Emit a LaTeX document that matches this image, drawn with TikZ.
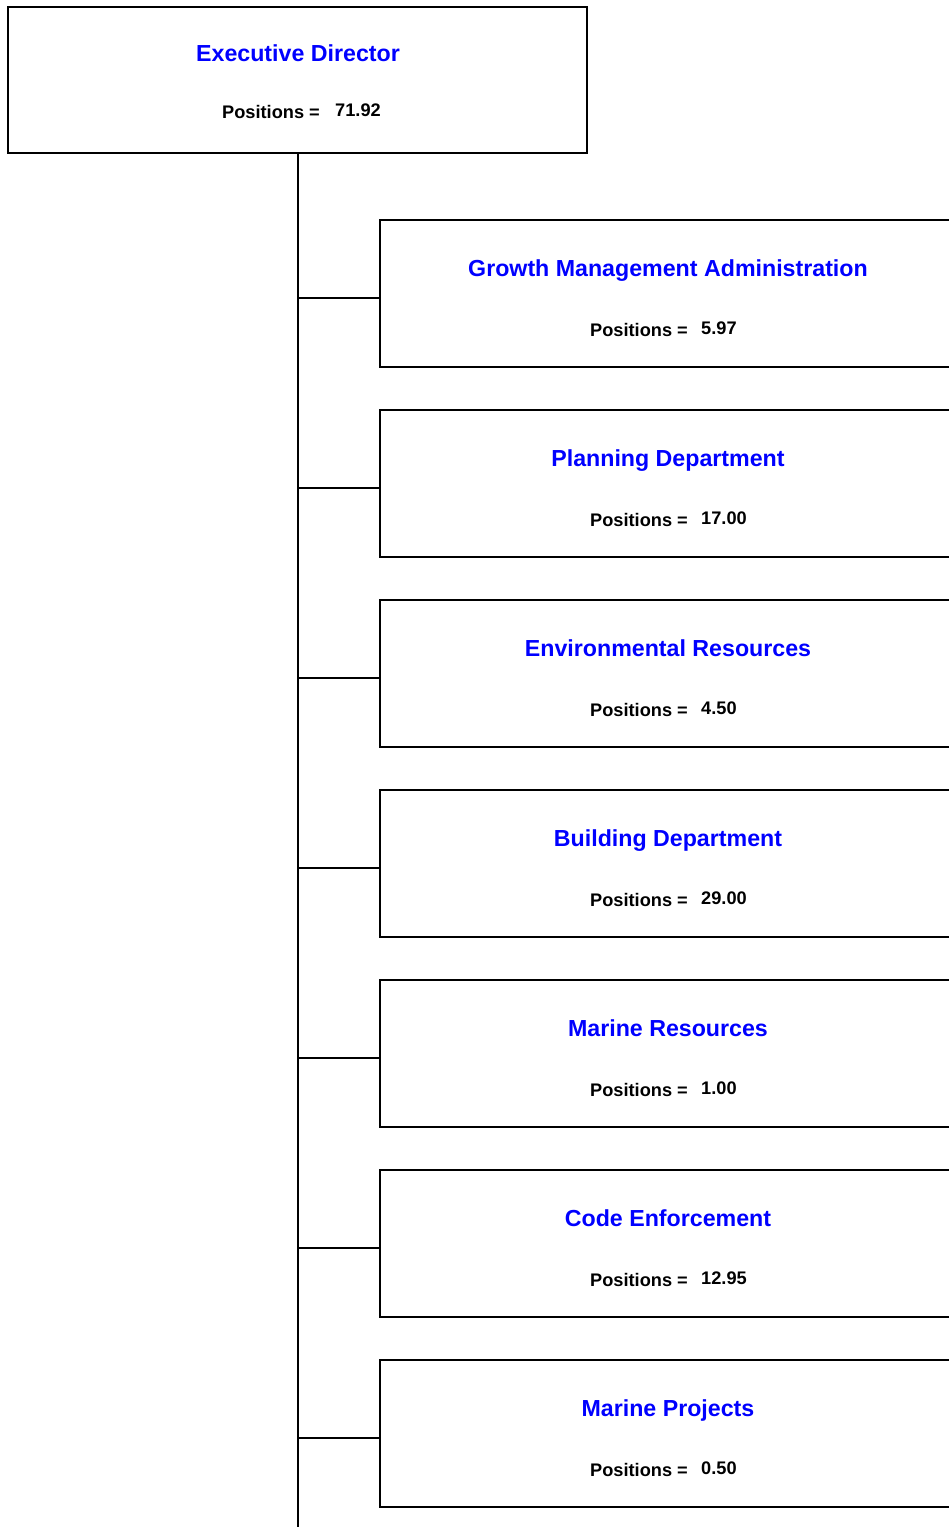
\documentclass[tikz,border=0pt]{standalone}
\usepackage{fontspec}
\setmainfont{Liberation Sans}
\definecolor{titleblue}{RGB}{0,0,255}
\begin{document}
\begin{tikzpicture}[x=1pt,y=-1pt,
  box/.style={draw=black,line width=2.6pt,rectangle,inner sep=0pt,minimum width=576pt,minimum height=147pt,fill=white},
  topbox/.style={draw=black,line width=2.6pt,rectangle,inner sep=0pt,minimum width=579pt,minimum height=146pt,fill=white},
  ttl/.style={font=\fontsize{23.2}{26}\selectfont\bfseries,text=titleblue,inner sep=0pt,anchor=base},
  poslabel/.style={font=\fontsize{18.2}{20}\selectfont\bfseries,text=black,inner sep=0pt,anchor=base west},
  numlabel/.style={font=\fontsize{18.2}{20}\selectfont\bfseries,text=black,inner sep=0pt,anchor=base west},
  conn/.style={draw=black,line width=2.6pt}]
\useasboundingbox (0,0) rectangle (949,1527);
\clip (0,0) rectangle (949,1527);
\fill[white] (0,0) rectangle (949,1527);
% top box
\node[topbox] (ed) at (297.5,80) {};
\node[ttl] (edt) at (298,61) {Executive Director};
\node[poslabel] (edp) at (222,118.3) {Positions =};
\node[numlabel] (edn) at (335,116.3) {71.92};
\coordinate (bottom) at (298,1527);
\draw[conn] (ed.south -| bottom) -- (bottom);
% children
\foreach \i/\t/\n in {0/Growth Management Administration/5.97,
                      1/Planning Department/17.00,
                      2/Environmental Resources/4.50,
                      3/Building Department/29.00,
                      4/Marine Resources/1.00,
                      5/Code Enforcement/12.95,
                      6/Marine Projects/0.50}{
  \pgfmathsetmacro{\ytop}{220+190*\i}
  \node[box] (b\i) at (668,\ytop+73.5) {};
  \node[ttl] (t\i) at (668,\ytop+56) {\t};
  \node[poslabel] (p\i) at (590,\ytop+116) {Positions =};
  \node[numlabel] (n\i) at (701,\ytop+114.7) {\n};
  \coordinate (j\i) at (298,\ytop+78);
  \draw[conn] (j\i) -- (j\i -| b\i.west);
}
\end{tikzpicture}
\end{document}
